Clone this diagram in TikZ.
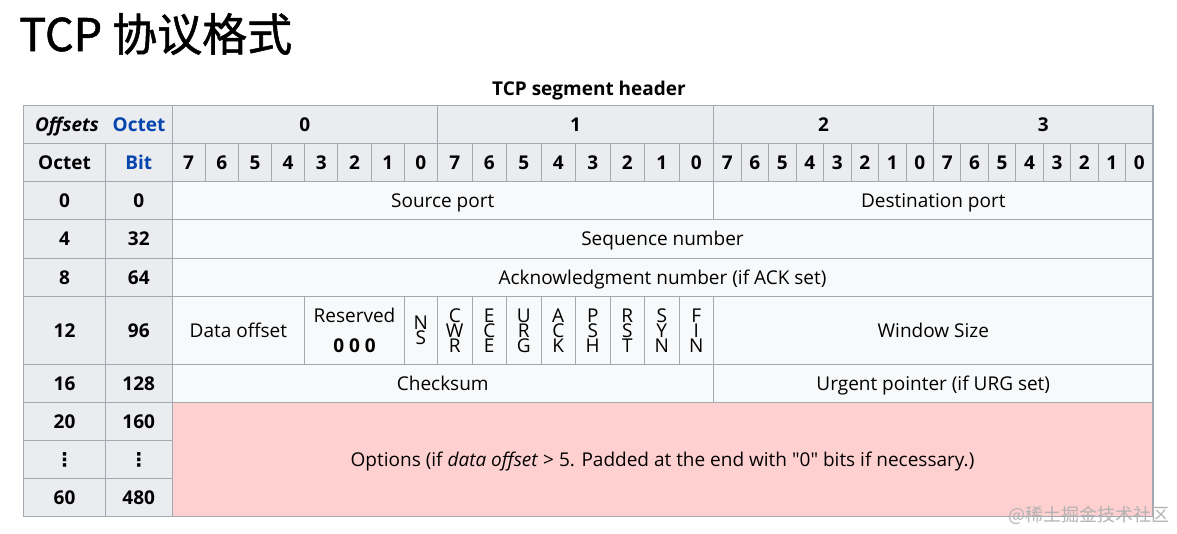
\documentclass[tikz,border=0pt]{standalone}
\usepackage{fontspec}
\setmainfont{Open Sans}[Ligatures=TeXOff]
\newfontfamily\cjk{Noto Sans CJK SC}
\newfontfamily\cjktitle{Noto Sans CJK SC}[FakeBold=1.2]
\newfontfamily\symfont{DejaVu Sans}
\usepackage{tikz}
\definecolor{hdrgray}{HTML}{EAECF0}
\definecolor{cellwhite}{HTML}{F8F9FA}
\definecolor{tblline}{HTML}{A2A9B1}
\definecolor{optpink}{RGB}{255,208,208}
\definecolor{wikiblue}{HTML}{0645AD}

\begin{document}
\begin{tikzpicture}[x=1pt, y=-1pt,
    box/.style={draw=tblline, line width=1pt, inner sep=0pt, font=\fontsize{19}{23}\selectfont, text height=13.6pt, text depth=0pt},
    hdr/.style={box, fill=hdrgray, font=\bfseries\fontsize{19}{23}\selectfont},
    cell/.style={box, fill=cellwhite},
    multi/.style={draw=tblline, line width=1pt, inner sep=0pt, fill=cellwhite, align=center, minimum height=68pt},
    flag/.style={multi, minimum width=34.5pt, font=\fontsize{19}{15}\selectfont},
    lbl/.style={inner sep=0pt, font=\bfseries\fontsize{19}{23}\selectfont, text height=13.6pt, text depth=0pt}
]
\useasboundingbox (0,0) rectangle (1177,533);

% Title and caption
\node[font=\cjktitle\fontsize{45}{50}\selectfont, anchor=base west, inner sep=0pt] (title) at (19,51) {TCP 协议格式};
\node[lbl, anchor=base] (caption) at (589,95.7) {TCP segment header};

% Header rows
\node[hdr, minimum width=148.5pt, minimum height=38pt] (corner) at (97.75,124.5) {};
\node[lbl, font=\bfseries\itshape\fontsize{19}{23}\selectfont] (offsets) at (67,124.5) {Offsets};
\node[lbl, text=wikiblue] (octethead) at (139,124.5) {Octet};
\node[hdr, minimum width=265.5pt, minimum height=38pt] (oct0) at (304.75,124.5) {0};
\node[hdr, minimum width=276pt, minimum height=38pt] (oct1) at (575.5,124.5) {1};
\node[hdr, minimum width=220pt, minimum height=38pt] (oct2) at (823.5,124.5) {2};
\node[hdr, minimum width=219.5pt, minimum height=38pt] (oct3) at (1043.25,124.5) {3};

\node[hdr, minimum width=82pt, minimum height=38pt] (octetlbl) at (64.5,162.5) {Octet};
\node[hdr, text=wikiblue, minimum width=66.5pt, minimum height=38pt] (bitlbl) at (138.75,162.5) {Bit};
\foreach \o/\s/\w in {0/172/33.1875, 1/437.5/34.5, 2/713.5/27.5, 3/933.5/27.4375}
  \foreach \k in {7,...,0}
    \node[hdr, minimum width=\w pt, minimum height=38pt] (bit\o\k) at ({\s+\w*(7.5-\k)},162.5) {\k};

% Offsets column
\foreach \y/\h/\oc/\bt in {200.5/38/0/0, 238.75/38.5/4/32, 277.25/38.5/8/64, 330.5/68/12/96, 383.5/38/16/128, 421.5/38/20/160, 497.5/38/60/480}
{
  \node[hdr, minimum width=82pt, minimum height=\h pt] (oc\oc) at (64.5,\y) {\oc};
  \node[hdr, minimum width=66.5pt, minimum height=\h pt] (bt\bt) at (138.75,\y) {\bt};
}
\node[hdr, minimum width=82pt, minimum height=38pt] (ocdots) at (64.5,459.5) {\symfont\bfseries ⋮};
\node[hdr, minimum width=66.5pt, minimum height=38pt] (btdots) at (138.75,459.5) {\symfont\bfseries ⋮};

% Fields
\node[cell, minimum width=541.5pt, minimum height=38pt] (srcport) at (442.75,200.5) {Source port};
\node[cell, minimum width=439.5pt, minimum height=38pt] (dstport) at (933.25,200.5) {Destination port};
\node[cell, minimum width=981pt, minimum height=38.5pt] (seqnum) at (662.5,238.75) {Sequence number};
\node[cell, minimum width=981pt, minimum height=38.5pt] (acknum) at (662.5,277.25) {Acknowledgment number (if ACK set)};

\node[cell, minimum width=132.75pt, minimum height=68pt] (dataoff) at (238.375,330.5) {Data offset};
\node[multi, minimum width=99.5625pt, font=\fontsize{19}{23}\selectfont] (reserved) at (354.53,330.5) {Reserved\\[7pt]\textbf{0 0 0}};
\node[flag, minimum width=33.1875pt] (ns) at (420.9,330.5) {N\\S};
\foreach \nm/\lab [count=\i from 0] in {cwr/{C\\W\\R}, ece/{E\\C\\E}, urg/{U\\R\\G}, ack/{A\\C\\K}, psh/{P\\S\\H}, rst/{R\\S\\T}, syn/{S\\Y\\N}, fin/{F\\I\\N}}
  \node[flag] (\nm) at ({437.5+34.5*(\i+0.5)},330.5) {\lab};
\node[cell, minimum width=439.5pt, minimum height=68pt] (winsize) at (933.25,330.5) {Window Size};

\node[cell, minimum width=541.5pt, minimum height=38pt] (checksum) at (442.75,383.5) {Checksum};
\node[cell, minimum width=439.5pt, minimum height=38pt] (urgptr) at (933.25,383.5) {Urgent pointer (if URG set)};
\node[cell, fill=optpink, minimum width=981pt, minimum height=114pt] (options) at (662.5,459.5) {Options (if \textit{data offset} > 5. Padded at the end with "0" bits if necessary.)};

\draw[tblline, line width=1.5pt] (23.5,105.5) rectangle (1153,516.5);

\node[font=\cjk\fontsize{18}{20}\selectfont, text=gray!60, anchor=east, inner sep=0pt] (juejin) at (1170,515) {@稀土掘金技术社区};
\end{tikzpicture}
\end{document}
